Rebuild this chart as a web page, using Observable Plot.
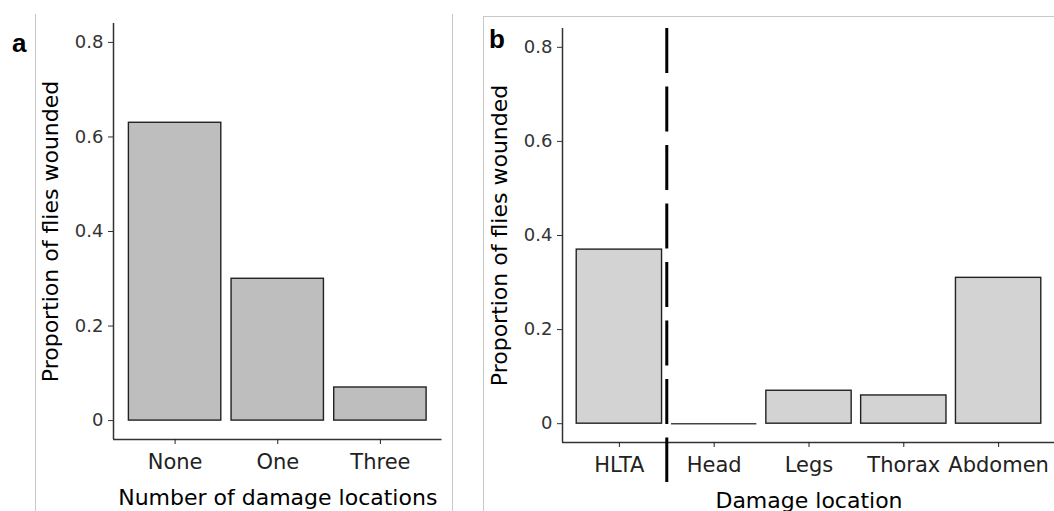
<!DOCTYPE html>
<html>
<head>
<meta charset="utf-8">
<script src="https://cdn.jsdelivr.net/npm/d3@7"></script>
<script src="https://cdn.jsdelivr.net/npm/@observablehq/plot@0.6"></script>
<style>
  html, body { margin: 0; padding: 0; background: #fff; overflow: hidden; }
  #wrap { position: relative; width: 1054px; height: 511px; overflow: hidden; background: #fff; }
  #wrap svg { position: absolute; top: 0; overflow: visible; }
  .vline { position: absolute; width: 1px; background: #c8c8c8; }
  .hline { position: absolute; height: 1px; background: #c8c8c8; }
  .tag { position: absolute; font-family: "Liberation Sans", Arial, sans-serif; font-weight: bold; font-size: 26px; line-height: 1; color: #000; }
</style>
</head>
<body>
<div id="wrap">
  <div class="vline" style="left:35px; top:14px; height:497px;"></div>
  <div class="vline" style="left:452px; top:14px; height:497px;"></div>
  <div class="vline" style="left:483px; top:16px; height:495px;"></div>
  <div class="hline" style="left:483px; top:16px; width:571px;"></div>
  <div class="tag" style="left:12px; top:30px;">a</div>
  <div class="tag" style="left:489px; top:26px;">b</div>
</div>
<script>
// ---- data ----
const damageCounts = ["None", "One", "Three"];
const countProportions = [0.63, 0.30, 0.07];
const damageLocations = ["HLTA", "Head", "Legs", "Thorax", "Abdomen"];
const locationProportions = [0.37, 0, 0.07, 0.06, 0.31];
const yTicks = [0, 0.2, 0.4, 0.6, 0.8];
const yLimits = [0, 0.8];
const yTitle = "Proportion of flies wounded";
const xTitleA = "Number of damage locations";
const xTitleB = "Damage location";
const dividerAfter = [0.5];          // between HLTA and Head (category index units)
const dividerSpan = [0.84, -0.125];  // proportion units

const expand = 0.05 * (yLimits[1] - yLimits[0]);
const yDomain = [yLimits[0] - expand, yLimits[1] + expand];
const barHalf = 0.45;

function panel({cats, vals, fill, width, height, margins, divider, xTitle}) {
  const data = cats.map((c, i) => ({cat: c, i, value: vals[i]}));
  const xDomain = [-0.6, cats.length - 1 + 0.6];
  const marks = [
    Plot.rectY(data, {
      x1: d => d.i - barHalf, x2: d => d.i + barHalf, y1: 0, y2: "value",
      fill, stroke: "#222", strokeWidth: 1.4
    }),
    Plot.ruleY(data.filter(d => d.value === 0), {
      x1: d => d.i - barHalf, x2: d => d.i + barHalf, y: "value",
      stroke: "#444", strokeWidth: 1.4
    }),
    Plot.ruleX([xDomain[0]], {stroke: "#333", strokeWidth: 1.5}),
    Plot.ruleY([yDomain[0]], {stroke: "#333", strokeWidth: 1.5}),
    Plot.axisX({
      ticks: data.map(d => d.i), tickFormat: i => cats[i],
      tickSize: 5, tickPadding: 10, fontSize: 21, color: "#222", label: null
    }),
    Plot.axisY({
      ticks: yTicks, tickFormat: d => String(d),
      tickSize: 5, tickPadding: 5, fontSize: 18, color: "#333", label: null
    }),
    Plot.text([xTitle], {
      text: d => d, frameAnchor: "bottom", lineAnchor: "bottom", dy: 65,
      fontSize: 22, fill: "#000"
    }),
    Plot.text([yTitle], {
      text: d => d, frameAnchor: "left", textAnchor: "middle", lineAnchor: "middle",
      rotate: -90, dx: -63, fontSize: 22, fill: "#000"
    })
  ];
  if (divider) {
    marks.push(Plot.ruleX(divider, {
      y1: dividerSpan[0], y2: dividerSpan[1],
      stroke: "#000", strokeWidth: 3, strokeDasharray: "45,13.5"
    }));
  }
  return Plot.plot({
    width, height,
    marginLeft: margins[0], marginRight: margins[1], marginTop: margins[2], marginBottom: margins[3],
    style: {fontFamily: "'DejaVu Sans', sans-serif", background: "transparent", overflow: "visible"},
    x: {type: "linear", domain: xDomain},
    y: {domain: yDomain},
    marks
  });
}

const wrap = document.getElementById("wrap");

const a = panel({
  cats: damageCounts, vals: countProportions, fill: "#bebebe",
  width: 460, height: 511, margins: [113, 18.5, 23, 72], xTitle: xTitleA
});
a.style.left = "0px";
wrap.appendChild(a);

const b = panel({
  cats: damageLocations, vals: locationProportions, fill: "#d3d3d3",
  width: 595, height: 511, margins: [102, 0, 28, 69], xTitle: xTitleB,
  divider: dividerAfter
});
b.style.left = "460px";
wrap.appendChild(b);
</script>
</body>
</html>
